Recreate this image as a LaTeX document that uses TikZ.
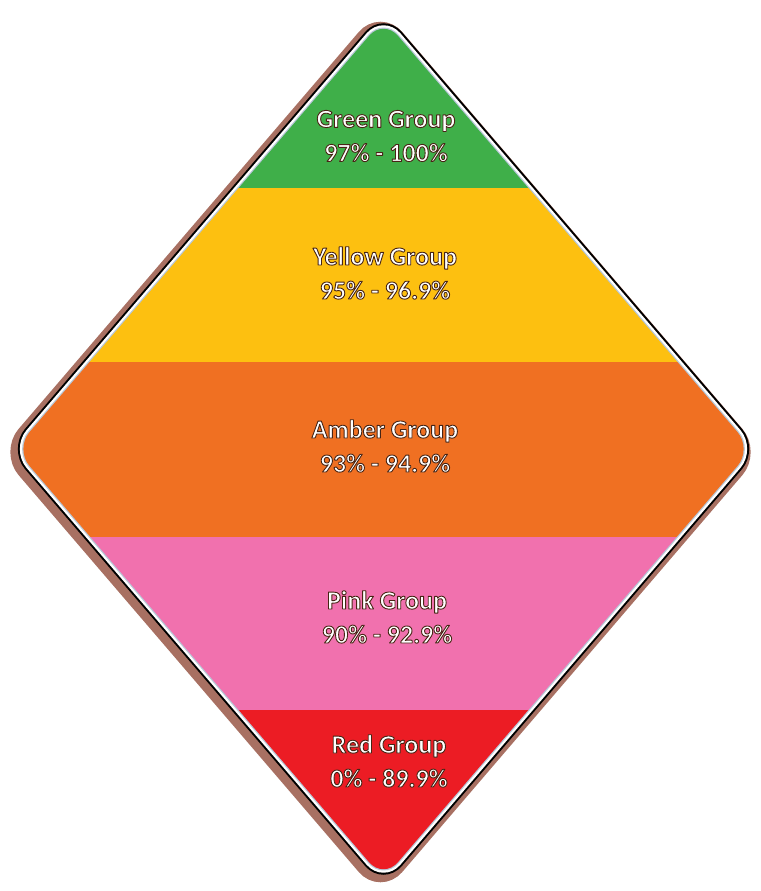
\documentclass[tikz,border=0pt]{standalone}
\usepackage{fontspec}
\setmainfont{Carlito}
\definecolor{bgreen}{HTML}{3FAF49}
\definecolor{byellow}{HTML}{FDC010}
\definecolor{bamber}{HTML}{F07022}
\definecolor{bpink}{HTML}{F171AE}
\definecolor{bred}{HTML}{EC1C24}
\definecolor{rimbrown}{HTML}{A87062}
\definecolor{rimblue}{HTML}{B8C8D8}
\newcommand\outlinedtext[1]{\special{pdf:code q 2 Tr 0.9 w 1 j 0.28 0.14 0.08 RG}#1\special{pdf:code Q}}
\tikzset{
  signshape/.style={rounded corners=22},
  grouplabel/.style={text=white, font=\fontsize{26}{34}\selectfont\bfseries, align=center, inner sep=0pt},
}
\begin{document}
\begin{tikzpicture}[x=1pt,y=-1pt]
\useasboundingbox (0,0) rectangle (760,891);
% rim layers
\draw[rimbrown, line width=20, signshape, shift={(-3,3)}] (383.5,19) -- (752,449) -- (383.5,879) -- (15,449) -- cycle;
\draw[black, line width=11, signshape] (383.5,19) -- (752,449) -- (383.5,879) -- (15,449) -- cycle;
\draw[white, line width=7, signshape] (383.5,19) -- (752,449) -- (383.5,879) -- (15,449) -- cycle;
\draw[rimblue, line width=2.5, signshape] (383.5,19) -- (752,449) -- (383.5,879) -- (15,449) -- cycle;
% colour bands
\begin{scope}
\clip[signshape] (383.5,19) -- (752,449) -- (383.5,879) -- (15,449) -- cycle;
\fill[bgreen] (0,0) rectangle (760,188);
\fill[byellow] (0,188) rectangle (760,362);
\fill[bamber] (0,362) rectangle (760,537);
\fill[bpink] (0,537) rectangle (760,710);
\fill[bred] (0,710) rectangle (760,891);
\end{scope}
% labels
\node[grouplabel] (green) at (386,136) {\outlinedtext{Green Group\\97\% - 100\%}};
\node[grouplabel] (yellow) at (385,273) {\outlinedtext{Yellow Group\\95\% - 96.9\%}};
\node[grouplabel] (amber) at (385,446) {\outlinedtext{Amber Group\\93\% - 94.9\%}};
\node[grouplabel] (pink) at (387,617) {\outlinedtext{Pink Group\\90\% - 92.9\%}};
\node[grouplabel] (red) at (389,761) {\outlinedtext{Red Group\\0\% - 89.9\%}};
\end{tikzpicture}
\end{document}
